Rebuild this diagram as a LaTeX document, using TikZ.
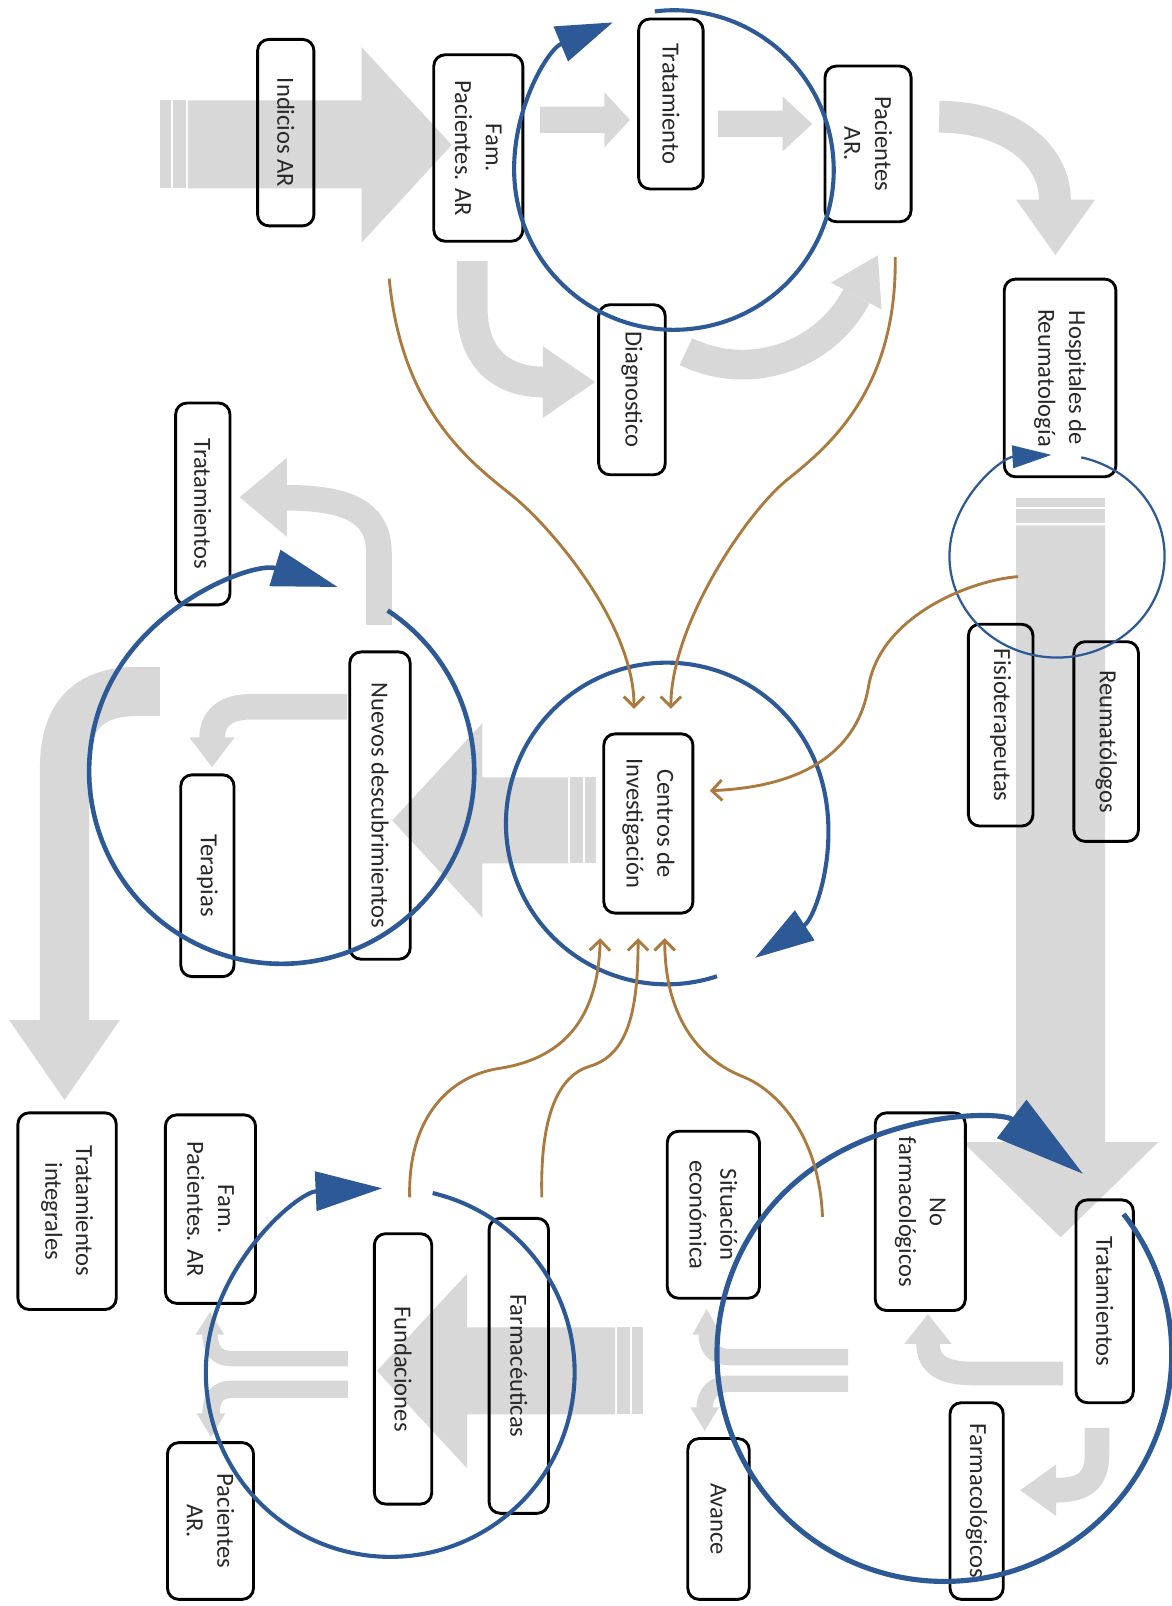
\documentclass[tikz,border=0pt]{standalone}
\usepackage{fontspec}
\setmainfont{Carlito}
\usetikzlibrary{arrows.meta}
\definecolor{band}{RGB}{216,216,216}
\definecolor{loop}{RGB}{45,90,150}
\definecolor{link}{RGB}{172,122,62}
\definecolor{ink}{RGB}{40,40,40}
\begin{document}
\begin{tikzpicture}[x=1pt,y=-1pt,
  box/.style={draw=black, line width=2.8pt, rounded corners=11pt, rotate=-90,
    align=center, inner sep=0pt, text=ink, font=\fontsize{24}{30}\selectfont},
  bandline/.style={draw=band, line width=#1, line cap=butt},
  loopline/.style={draw=loop, line width=#1},
  feed/.style={draw=link, line width=2.8pt, -{Straight Barb[length=10pt,width=20pt]}},
]
\useasboundingbox (0,0) rectangle (1144,1568);
\fill[white] (0,0) rectangle (1144,1568);

% ---------- grey flow arrows ----------
% striped arrow into the first box
\fill[band] (156,98) rectangle (166.5,184);
\fill[band] (168.5,98) rectangle (181.5,184);
\fill[band] (183.5,98) -- (353,98) -- (353,46) -- (441,141.5) -- (353,237) -- (353,184) -- (183.5,184) -- cycle;
% short straight arrows
\fill[band] (527,104) -- (590,104) -- (590,90) -- (615,117) -- (590,144) -- (590,130) -- (527,130) -- cycle;
\fill[band] (701,108) -- (764,108) -- (764,94) -- (793,121) -- (764,148) -- (764,134) -- (701,134) -- cycle;
% bent arrow towards the hospitals
\draw[bandline=31pt] (917,114) .. controls (985,114) and (1030,150) .. (1030,196);
\fill[band] (992,195) -- (1069,195) -- (1030.5,249) -- cycle;
% bent arrow towards the diagnosis
\draw[bandline=30pt] (461,255) -- (461,300) .. controls (461,350) and (490,373) .. (531,373);
\fill[band] (530,338) -- (581,373) -- (530,408) -- cycle;
% curved arrow from the diagnosis back to the patients
\draw[bandline=29pt] (725,230) ++(116:126) arc[start angle=116, end angle=28, radius=126];
\fill[band] (811.3,275.9) -- (857.1,249.3) -- (860.7,302.1) -- cycle;
% long striped arrow down the right side
\fill[band] (992,486) rectangle (1079,495);
\fill[band] (992,497) rectangle (1079,511);
\fill[band] (992,513) -- (992,1115) -- (940,1115) -- (1035.5,1208) -- (1131,1115) -- (1079,1115) -- (1079,513) -- cycle;
% striped arrow from the research centres
\fill[band] (571.5,759) rectangle (582,843);
\fill[band] (556.5,759) rectangle (569.5,843);
\fill[band] (554.5,759) -- (471,759) -- (471,706) -- (383,801) -- (471,896) -- (471,843) -- (554.5,843) -- cycle;
% bent arrows around the discoveries
\draw[bandline=25pt] (370,610) -- (370,540) .. controls (370,500) and (340,486) .. (279,486);
\fill[band] (280,447) -- (280,524) -- (234,485.5) -- cycle;
\draw[bandline=25pt] (339,690) -- (245,690) .. controls (222,690) and (207,700) .. (207,721);
\fill[band] (185,720) -- (229,720) -- (207,749) -- cycle;
% large L-shaped arrow on the left
\draw[bandline=48pt] (156,675) -- (135,675) .. controls (85,675) and (63,700) .. (63,750) -- (63,997);
\fill[band] (9,996) -- (117,996) -- (63,1074) -- cycle;
% striped arrow through the foundations
\fill[band] (617.5,1296) rectangle (628,1381);
\fill[band] (602.5,1296) rectangle (615.5,1381);
\fill[band] (600.5,1296) -- (456,1296) -- (456,1243.5) -- (368,1338.5) -- (456,1433.5) -- (456,1381) -- (600.5,1381) -- cycle;
% split arrows, lower left
\draw[bandline=15pt] (340,1326.5) -- (226,1326.5) .. controls (212,1326.5) and (205,1318) .. (205,1302);
\fill[band] (191,1303) -- (219,1303) -- (205,1281) -- cycle;
\draw[bandline=17pt] (340,1356.5) -- (226,1356.5) .. controls (212,1356.5) and (206,1365) .. (206,1381);
\fill[band] (192,1380) -- (220,1380) -- (206,1403) -- cycle;
% split arrows, lower right
\draw[bandline=16pt] (828,1325) -- (712,1325) .. controls (698,1325) and (690,1317) .. (690,1302);
\fill[band] (676,1303) -- (704,1303) -- (690,1278) -- cycle;
\draw[bandline=16pt] (828,1351) -- (712,1351) .. controls (698,1351) and (688,1359) .. (688,1375);
\fill[band] (674,1374) -- (702,1374) -- (688,1397) -- cycle;
% bent arrows out of the treatments
\draw[bandline=23pt] (1038,1341) -- (950,1341) .. controls (920,1341) and (906,1332) .. (906,1311);
\fill[band] (883,1312) -- (929,1312) -- (906,1283) -- cycle;
\draw[bandline=24pt] (1071,1394) -- (1071,1420) .. controls (1071,1446) and (1058,1455) .. (1030,1455);
\fill[band] (1031,1430) -- (1031,1480) -- (996,1455) -- cycle;

% ---------- boxes ----------
\node[box, minimum width=182pt, minimum height=55pt] (indicios) at (279,129.5) {Indicios AR};
\node[box, minimum width=182pt, minimum height=87pt] (famtop) at (467,144.5) {Fam.\\Pacientes. AR};
\node[box, minimum width=166pt, minimum height=63pt] (trat) at (655,101.5) {Tratamiento};
\node[box, minimum width=152pt, minimum height=84pt] (pactop) at (847.5,140.5) {Pacientes\\AR.};
\node[box, minimum width=166pt, minimum height=65pt] (diag) at (617,380.5) {Diagnostico};
\node[box, minimum width=193pt, minimum height=109pt] (hosp) at (1035,369) {Hospitales de\\Reumatología};
\node[box, minimum width=197pt, minimum height=63pt] (fisio) at (977,708) {Fisioterapeutas};
\node[box, minimum width=195pt, minimum height=63pt] (reuma) at (1080,724) {Reumatólogos};
\node[box, minimum width=175pt, minimum height=87pt] (centros) at (633,804) {Centros de\\Investigación};
\node[box, minimum width=197pt, minimum height=53pt] (tratL) at (198,492) {Tratamientos};
\node[box, minimum width=300pt, minimum height=59pt] (nuevos) at (371,786.5) {Nuevos descubrimientos};
\node[box, minimum width=197pt, minimum height=52pt] (terapias) at (202.5,855) {Terapias};
\node[box, minimum width=192pt, minimum height=96pt] (tratint) at (65.5,1182.5) {Tratamientos\\integrales};
\node[box, minimum width=184pt, minimum height=88pt] (famB) at (205.5,1180.5) {Fam.\\Pacientes. AR};
\node[box, minimum width=153pt, minimum height=84pt] (pacB) at (205.5,1485) {Pacientes\\AR.};
\node[box, minimum width=264pt, minimum height=56pt] (fund) at (393.5,1336.5) {Fundaciones};
\node[box, minimum width=288pt, minimum height=58pt] (farmac) at (506.5,1333.5) {Farmacéuticas};
\node[box, minimum width=163pt, minimum height=90pt] (situ) at (696.5,1186) {Situación\\económica};
\node[box, minimum width=193pt, minimum height=88pt] (nofarm) at (898.5,1183) {No\\farmacológicos};
\node[box, minimum width=198pt, minimum height=56pt] (tratR) at (1078.5,1270.5) {Tratamientos};
\node[box, minimum width=192pt, minimum height=52pt] (farmaco) at (953.5,1465.5) {Farmacológicos};
\node[box, minimum width=157pt, minimum height=60pt] (avance) at (701.5,1483) {Avance};

% ---------- cycle arcs ----------
\draw[loopline=4pt, -{Triangle[length=55pt,width=36pt]}]
  (658,166) ++(-96.9:156) arc[start angle=-96.9, end angle=247.5, radius=156];
\draw[loopline=4pt, -{Triangle[length=58pt,width=34pt]}]
  (651,804) ++(71.8:157) arc[start angle=71.8, end angle=416.7, radius=157];
\draw[loopline=4.5pt, -{Triangle[length=64pt,width=36pt]}]
  (275,753) ++(-56.6:188) arc[start angle=-56.6, end angle=286.9, radius=188];
\draw[loopline=4pt, -{Triangle[length=65pt,width=38pt]}]
  (381,1340) ++(-76.7:180) arc[start angle=-76.7, end angle=267.5, radius=180];
\draw[loopline=5pt, -{Triangle[length=88pt,width=46pt]}]
  (922,1322) ++(-38:222) arc[start angle=-38, end angle=307.6, radius=222];
\draw[loopline=2.2pt, -{Triangle[length=38pt,width=22pt]}]
  (1032,543) ++(-77:105 and 99) arc[start angle=-77, end angle=267, x radius=105, y radius=99];

% ---------- links into the research centres ----------
\coordinate (l1s) at (380,272);   \coordinate (l1e) at (619,692);
\coordinate (l2s) at (874,251);   \coordinate (l2e) at (655,692);
\coordinate (l3s) at (994,563);   \coordinate (l3e) at (693,772);
\coordinate (l4s) at (400,1169);  \coordinate (l4e) at (586,916);
\coordinate (l5s) at (529,1169);  \coordinate (l5e) at (623,916);
\coordinate (l6s) at (803,1188);  \coordinate (l6e) at (649,916);
\draw[feed] (l1s) .. controls (392,400) and (459,451) .. (499,483) .. controls (539,515) and (619,610) .. (l1e);
\draw[feed] (l2s) .. controls (876,380) and (809,436) .. (769,468) .. controls (729,500) and (655,610) .. (l2e);
\draw[feed] (l3s) .. controls (950,566) and (860,600) .. (848,670) .. controls (838,730) and (790,768) .. (l3e);
\draw[feed] (l4s) .. controls (398,1090) and (440,1050) .. (488,1043) .. controls (545,1034) and (584,1000) .. (l4e);
\draw[feed] (l5s) .. controls (527,1090) and (545,1050) .. (576,1041) .. controls (612,1030) and (623,990) .. (l5e);
\draw[feed] (l6s) .. controls (800,1110) and (760,1065) .. (725,1051) .. controls (680,1033) and (649,990) .. (l6e);
\end{tikzpicture}
\end{document}
